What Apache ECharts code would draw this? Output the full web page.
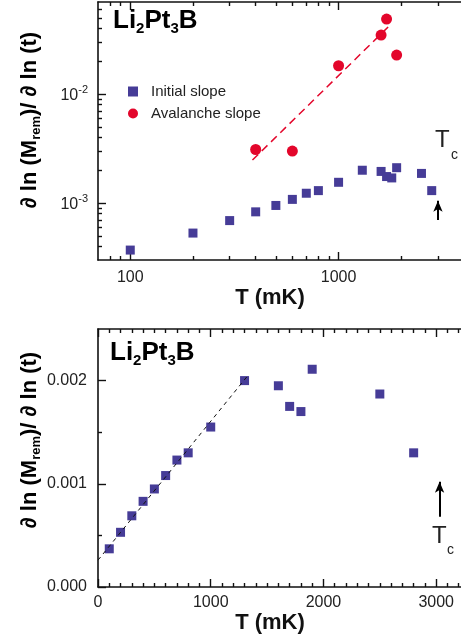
<!DOCTYPE html>
<html>
<head>
<meta charset="utf-8">
<script src="https://cdn.jsdelivr.net/npm/echarts@6/dist/echarts.min.js"></script>
<style>
  html, body { margin: 0; padding: 0; background: #fff; }
  #main { width: 461px; height: 640px; }
</style>
</head>
<body>
<div id="main"></div>
<script>
  // data (T in mK)
  const tempInitial = [100, 200, 300, 400, 500, 600, 700, 800, 1000, 1300, 1600, 1700, 1800, 1900, 2500, 2800];
  const slopeInitial = [0.00037, 0.00053, 0.00069, 0.00083, 0.00095, 0.00108, 0.00123, 0.0013, 0.00155, 0.002, 0.00195, 0.00175, 0.0017, 0.00211, 0.00187, 0.0013];
  const tempAvalanche = [400, 600, 1000, 1600, 1700, 1900];
  const slopeAvalanche = [0.0031, 0.0030, 0.0182, 0.0348, 0.0488, 0.0228];

  // dashed guide lines
  const fitAvalancheT = [386, 1754];
  const fitAvalancheY = [0.00248, 0.0424];
  const fitLinearT = [0, 1330];
  const fitLinearY = [0.00026, 0.00205];

  // Tc arrows
  const arrowTopT = 3000, arrowTopY = [0.0007, 0.00105];
  const arrowBotT = 3030, arrowBotY = [0.00068, 0.00102];

  // ticks
  const logMajorT = [100, 1000];
  const logMinorT = [80, 90, 200, 300, 400, 500, 600, 700, 800, 900, 2000, 3000];
  const logMajorY = [0.001, 0.01];
  const logMinorY = [0.0004, 0.0005, 0.0006, 0.0007, 0.0008, 0.0009,
                     0.002, 0.003, 0.004, 0.005, 0.006, 0.007, 0.008, 0.009,
                     0.02, 0.03, 0.04, 0.05, 0.06];
  const linMajorT = [0, 1000, 2000, 3000];
  const linMinorT = [100, 200, 300, 400, 500, 600, 700, 800, 900,
                     1100, 1200, 1300, 1400, 1500, 1600, 1700, 1800, 1900,
                     2100, 2200, 2300, 2400, 2500, 2600, 2700, 2800, 2900, 3100, 3200];
  const linMajorY = [0, 0.001, 0.002];
  const linMinorY = [0.0005, 0.0015];

  const FONT = 'Liberation Sans, Arial, sans-serif';
  const BLUE = '#463c97';
  const RED = '#e3062b';

  let myChart = echarts.init(document.getElementById('main'));

  function axis(o) {
    return {
      type: o.type,
      gridIndex: o.grid,
      position: o.position,
      min: o.min,
      max: o.max,
      name: o.name || '',
      nameLocation: 'middle',
      nameGap: o.nameGap || 0,
      nameTextStyle: { fontFamily: FONT, fontSize: 22, fontWeight: 'bold', color: '#111', padding: o.namePad || 0 },
      axisLine: { show: !!o.line, onZero: false, lineStyle: { color: '#111', width: 1.6 } },
      axisTick: { show: true, inside: true, length: o.tickLen, customValues: o.ticks,
                  lineStyle: { color: '#111', width: 1.4 } },
      axisLabel: o.labels ? { show: true, customValues: o.labels, margin: o.margin, formatter: o.formatter,
                              fontFamily: FONT, fontSize: 16, color: '#222', rich: o.rich }
                          : { show: false },
      splitLine: { show: false },
      minorTick: { show: false }
    };
  }

  const supRich = {
    b: { fontFamily: FONT, fontSize: 16, color: '#222', lineHeight: 20, verticalAlign: 'bottom' },
    s: { fontFamily: FONT, fontSize: 11, color: '#222', lineHeight: 11, verticalAlign: 'top' }
  };

  let xAxes = [
    // top panel (log)
    axis({ type: 'log', grid: 0, position: 'bottom', min: 70, max: 3870, line: true, ticks: logMajorT, tickLen: 8,
           labels: logMajorT, margin: 10, formatter: v => String(v),
           name: 'T (mK)', nameGap: 20, namePad: [0, 19, 0, 0] }),
    axis({ type: 'log', grid: 0, position: 'bottom', min: 70, max: 3870, ticks: logMinorT, tickLen: 4 }),
    axis({ type: 'log', grid: 0, position: 'top', min: 70, max: 3870, line: true, ticks: logMajorT, tickLen: 8 }),
    axis({ type: 'log', grid: 0, position: 'top', min: 70, max: 3870, ticks: logMinorT, tickLen: 4 }),
    // bottom panel (linear)
    axis({ type: 'value', grid: 1, position: 'bottom', min: 0, max: 3220, line: true, ticks: linMajorT, tickLen: 8,
           labels: linMajorT, margin: 8, formatter: v => String(v),
           name: 'T (mK)', nameGap: 23, namePad: [0, 19, 0, 0] }),
    axis({ type: 'value', grid: 1, position: 'bottom', min: 0, max: 3220, ticks: linMinorT, tickLen: 4 }),
    axis({ type: 'value', grid: 1, position: 'top', min: 0, max: 3220, line: true, ticks: linMajorT, tickLen: 8 }),
    axis({ type: 'value', grid: 1, position: 'top', min: 0, max: 3220, ticks: linMinorT, tickLen: 4 })
  ];

  let yAxes = [
    axis({ type: 'log', grid: 0, position: 'left', min: 0.0003, max: 0.07, line: true, ticks: logMajorY, tickLen: 8,
           labels: logMajorY, margin: 10, rich: supRich,
           formatter: v => '{b|10}{s|' + Math.round(Math.log10(v)) + '}' }),
    axis({ type: 'log', grid: 0, position: 'left', min: 0.0003, max: 0.07, ticks: logMinorY, tickLen: 4 }),
    axis({ type: 'value', grid: 1, position: 'left', min: 0, max: 0.0025, line: true, ticks: linMajorY, tickLen: 8,
           labels: linMajorY, margin: 11, formatter: v => v.toFixed(3) }),
    axis({ type: 'value', grid: 1, position: 'left', min: 0, max: 0.0025, ticks: linMinorY, tickLen: 4 })
  ];

  function pairs(xs, ys) {
    return xs.map((x, i) => [x, ys[i]]);
  }

  function arrow(t, ys) {
    return {
      silent: true,
      symbol: ['none', 'arrow'],
      symbolSize: [7, 11],
      label: { show: false },
      lineStyle: { color: '#000', width: 2, type: 'solid', opacity: 1 },
      data: [[{ coord: [t, ys[0]] }, { coord: [t, ys[1]] }]]
    };
  }

  const titleRich = {
    m: { fontFamily: FONT, fontSize: 26, fontWeight: 'bold', color: '#222', lineHeight: 30 },
    s: { fontFamily: FONT, fontSize: 15, fontWeight: 'bold', color: '#222', lineHeight: 15, verticalAlign: 'bottom' }
  };
  const yNameRich = {
    a: { fontFamily: FONT, fontSize: 22, fontWeight: 'bold', color: '#111', lineHeight: 26 },
    r: { fontFamily: FONT, fontSize: 13, fontWeight: 'bold', color: '#111', lineHeight: 13, verticalAlign: 'bottom' }
  };
  const yNameText = '{a|\u2202 ln (M}{r|rem}{a|)/ \u2202 ln (t)}';
  const titleText = '{m|Li}{s|2}{m|Pt}{s|3}{m|B}';

  let option = {
    animation: false,
    backgroundColor: '#fff',
    grid: [
      { left: 98, top: 2, width: 363, height: 258, outerBoundsMode: 'none' },
      { left: 98, top: 329, width: 363, height: 258, outerBoundsMode: 'none' }
    ],
    xAxis: xAxes,
    yAxis: yAxes,
    legend: {
      left: 123, top: 79, orient: 'vertical',
      itemWidth: 10, itemHeight: 10, itemGap: 7,
      textStyle: { fontFamily: FONT, fontSize: 15, color: '#222', padding: [0, 0, 0, 8] },
      data: [{ name: 'Initial slope', icon: 'rect' }, { name: 'Avalanche slope', icon: 'circle' }]
    },
    graphic: [
      { type: 'text', left: 113, top: 8, style: { text: titleText, rich: titleRich } },
      { type: 'text', left: 110, top: 340, style: { text: titleText, rich: titleRich } },
      { type: 'text', x: 435, y: 128, style: { text: 'T', fontFamily: FONT, fontSize: 24, fill: '#222' } },
      { type: 'text', x: 451, y: 148, style: { text: 'c', fontFamily: FONT, fontSize: 14, fill: '#222' } },
      { type: 'text', x: 432, y: 524, style: { text: 'T', fontFamily: FONT, fontSize: 24, fill: '#222' } },
      { type: 'text', x: 447, y: 543, style: { text: 'c', fontFamily: FONT, fontSize: 14, fill: '#222' } },
      { type: 'text', x: 30, y: 120, rotation: Math.PI / 2,
        style: { text: yNameText, rich: yNameRich, align: 'center', verticalAlign: 'middle' } },
      { type: 'text', x: 30, y: 440, rotation: Math.PI / 2,
        style: { text: yNameText, rich: yNameRich, align: 'center', verticalAlign: 'middle' } }
    ],
    series: [
      { name: 'Avalanche fit', type: 'line', xAxisIndex: 0, yAxisIndex: 0, symbol: 'none', z: 2,
        lineStyle: { color: RED, width: 1.5, type: [8, 5] },
        data: pairs(fitAvalancheT, fitAvalancheY),
        markLine: arrow(arrowTopT, arrowTopY) },
      { name: 'Initial slope', type: 'scatter', xAxisIndex: 0, yAxisIndex: 0, symbol: 'rect', symbolSize: 9, z: 3,
        itemStyle: { color: BLUE, opacity: 1 }, data: pairs(tempInitial, slopeInitial) },
      { name: 'Avalanche slope', type: 'scatter', xAxisIndex: 0, yAxisIndex: 0, symbol: 'circle', symbolSize: 11, z: 3,
        itemStyle: { color: RED, opacity: 1 }, data: pairs(tempAvalanche, slopeAvalanche) },
      { name: 'Initial slope (linear)', type: 'scatter', xAxisIndex: 4, yAxisIndex: 2, symbol: 'rect', symbolSize: 9, z: 3,
        itemStyle: { color: BLUE, opacity: 1 }, data: pairs(tempInitial, slopeInitial) },
      { name: 'Linear fit', type: 'line', xAxisIndex: 4, yAxisIndex: 2, symbol: 'none', z: 4,
        lineStyle: { color: '#111', width: 1, type: [4, 4] },
        data: pairs(fitLinearT, fitLinearY),
        markLine: arrow(arrowBotT, arrowBotY) }
    ]
  };

  myChart.setOption(option);
</script>
</body>
</html>
